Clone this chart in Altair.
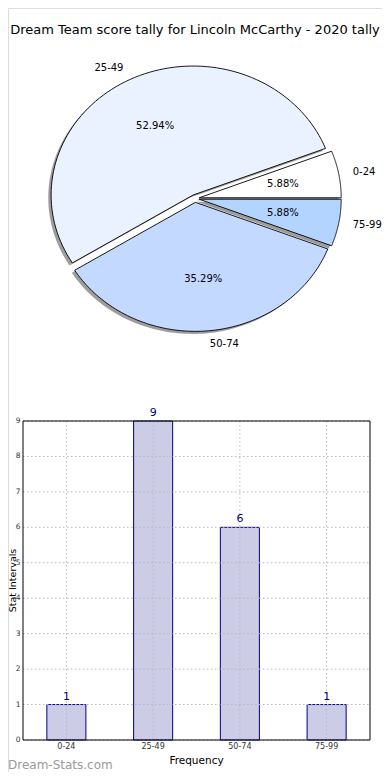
import altair as alt
import pandas as pd

# ---- data ----
cats = ["0-24", "25-49", "50-74", "75-99"]
counts = [1, 9, 6, 1]
pie_colors = ["#ffffff", "#eaf2ff", "#c4d9ff", "#b3d4ff"]
y_ticks = list(range(0, 10))
title_text = "Dream Team score tally for Lincoln McCarthy - 2020 tally"
x_title = "Frequency"
y_title = "Stat Intervals"
watermark = "Dream-Stats.com"

# ---- layout constants (pixels, plot coordinates) ----
W, H = 374, 764
CX, CY, RX, RY = 187, 190.5, 142, 129
EXPLODE = 0.03
SHADOW = 0.02
N = 90
BX0, BX1, BY0, BY1 = 15, 362, 413, 732
FONT = "DejaVu Sans"

df = pd.DataFrame({"cat": cats, "count": counts, "idx": list(range(len(cats)))})
ticks_df = pd.DataFrame({"t": y_ticks})

base_pie = (
    alt.Chart(df)
    .transform_joinaggregate(total="sum(count)")
    .transform_window(cum="sum(count)", sort=[alt.SortField("idx")], frame=[None, 0])
    .transform_calculate(
        a1="2*PI*(datum.cum - datum.count)/datum.total",
        a2="2*PI*datum.cum/datum.total",
    )
    .transform_calculate(mid="(datum.a1 + datum.a2)/2")
    .transform_calculate(
        cx=f"{CX} + {EXPLODE * RX}*cos(datum.mid)",
        cy=f"{CY} - {EXPLODE * RY}*sin(datum.mid)",
    )
)

wedges = (
    base_pie.transform_calculate(k=f"sequence(0, {N + 3})")
    .transform_flatten(["k"])
    .transform_calculate(
        ang=f"datum.a1 + (clamp(datum.k, 1, {N + 1}) - 1)/{N}*(datum.a2 - datum.a1)",
        apex=f"datum.k == 0 || datum.k == {N + 2}",
    )
    .transform_calculate(
        px=f"datum.apex ? datum.cx : datum.cx + {RX}*cos(datum.ang)",
        py=f"datum.apex ? datum.cy : datum.cy - {RY}*sin(datum.ang)",
    )
    .transform_calculate(
        sx=f"datum.px - {SHADOW * RX}",
        sy=f"datum.py + {SHADOW * RY}",
    )
)

shadow_layer = wedges.mark_line(filled=True, color="#8c8c8c", opacity=0.85).encode(
    x=alt.X("sx:Q", scale=None, axis=None),
    y=alt.Y("sy:Q", scale=None, axis=None),
    detail="cat:N",
    order="k:Q",
)

wedge_layer = wedges.mark_line(
    filled=True, stroke="black", strokeWidth=0.9
).encode(
    x=alt.X("px:Q", scale=None, axis=None),
    y=alt.Y("py:Q", scale=None, axis=None),
    color=alt.Color("cat:N", scale=alt.Scale(domain=cats, range=pie_colors), legend=None),
    detail="cat:N",
    order="k:Q",
)

labels_base = base_pie.transform_calculate(
    pct="format(100*datum.count/datum.total, '.2f') + '%'",
    tx=f"datum.cx + {0.6 * RX}*cos(datum.mid)",
    ty=f"datum.cy - {0.6 * RY}*sin(datum.mid)",
    lx=f"datum.cx + {1.1 * RX}*cos(datum.mid)",
    ly=f"datum.cy - {1.1 * RY}*sin(datum.mid)",
)

pct_layer = labels_base.mark_text(fontSize=10, font=FONT, color="black", baseline="middle").encode(
    x=alt.X("tx:Q", scale=None, axis=None),
    y=alt.Y("ty:Q", scale=None, axis=None),
    text="pct:N",
)

outer_right = labels_base.transform_filter("cos(datum.mid) > 0").mark_text(
    fontSize=10, font=FONT, color="black", align="left", baseline="middle"
).encode(
    x=alt.X("lx:Q", scale=None, axis=None),
    y=alt.Y("ly:Q", scale=None, axis=None),
    text="cat:N",
)
outer_left = labels_base.transform_filter("cos(datum.mid) <= 0").mark_text(
    fontSize=10, font=FONT, color="black", align="right", baseline="middle"
).encode(
    x=alt.X("lx:Q", scale=None, axis=None),
    y=alt.Y("ly:Q", scale=None, axis=None),
    text="cat:N",
)

# ---- bar chart ----
xscale = alt.Scale(domain=cats, range=[BX0, BX1], paddingInner=0.55, paddingOuter=0.275)
yscale = alt.Scale(domain=[0, 9], range=[BY1, BY0], nice=False, zero=True)

X_ = dict(scale=xscale, sort=cats, axis=None)

bars = alt.Chart(df).mark_bar(fill="#ccccE6", stroke="#000080", strokeWidth=1).encode(
    x=alt.X("cat:N", **X_),
    y=alt.Y("count:Q", scale=yscale, axis=None),
)

grid_style = dict(stroke="#b8b8b8", strokeDash=[1.5, 2.5], strokeWidth=1)
vgrid = alt.Chart(df).mark_rule(**grid_style).encode(
    x=alt.X("cat:N", **X_),
    y=alt.value(BY0),
    y2=alt.value(BY1),
)
hgrid = alt.Chart(ticks_df).mark_rule(**grid_style).encode(
    y=alt.Y("t:Q", scale=yscale, axis=None),
    x=alt.value(BX0),
    x2=alt.value(BX1),
)

frame_h = alt.Chart(pd.DataFrame({"e": [BY0, BY1]})).mark_rule(color="black", strokeWidth=1).encode(
    x=alt.value(BX0), x2=alt.value(BX1), y=alt.Y("e:Q", scale=None, axis=None)
)
frame_v = alt.Chart(pd.DataFrame({"e": [BX0, BX1]})).mark_rule(color="black", strokeWidth=1).encode(
    x=alt.X("e:Q", scale=None, axis=None), y=alt.value(BY0), y2=alt.value(BY1)
)

bar_labels = alt.Chart(df).mark_text(
    color="#000080", fontSize=11, font=FONT, baseline="alphabetic", dy=-5
).encode(
    x=alt.X("cat:N", **X_),
    y=alt.Y("count:Q", scale=yscale, axis=None),
    text="count:Q",
)

# tick labels
xlabels = alt.Chart(df).mark_text(
    fontSize=8, font=FONT, color="#333333", baseline="top"
).encode(
    x=alt.X("cat:N", **X_),
    y=alt.value(BY1 + 3),
    text="cat:N",
)
ylabels = alt.Chart(ticks_df).mark_text(
    fontSize=7.5, font=FONT, color="#333333", baseline="middle", align="right"
).encode(
    y=alt.Y("t:Q", scale=yscale, axis=None),
    x=alt.value(BX0 - 2.5),
    text="t:Q",
)

# ---- free texts ----
def free_text(txt, x, y, **kw):
    return alt.Chart(pd.DataFrame({"t": [txt]})).mark_text(font=FONT, **kw).encode(
        x=alt.value(x), y=alt.value(y), text="t:N"
    )

title_layer = free_text(title_text, CX, 22, fontSize=13, color="black", baseline="middle")
xtitle_layer = free_text(x_title, (BX0 + BX1) / 2, 752.5, fontSize=10.5, color="black", baseline="middle")
ytitle_layer = free_text(y_title, 7.5, (BY0 + BY1) / 2, fontSize=9.5, color="black",
                         angle=270, baseline="alphabetic")
wm_layer = free_text(watermark, 0, 761, fontSize=12, color="#9a9a9a", align="left",
                     baseline="alphabetic")

chart = alt.layer(
    bars, vgrid, hgrid, frame_h, frame_v, bar_labels, xlabels, ylabels,
    shadow_layer, wedge_layer, pct_layer, outer_right, outer_left,
    title_layer, xtitle_layer, ytitle_layer, wm_layer,
).properties(
    width=W, height=H, autosize=alt.AutoSizeParams(type="none"), padding=0,
).configure_view(strokeWidth=0).configure(font=FONT)

chart.save("out.html", embed_options={"renderer": "svg", "actions": False})
